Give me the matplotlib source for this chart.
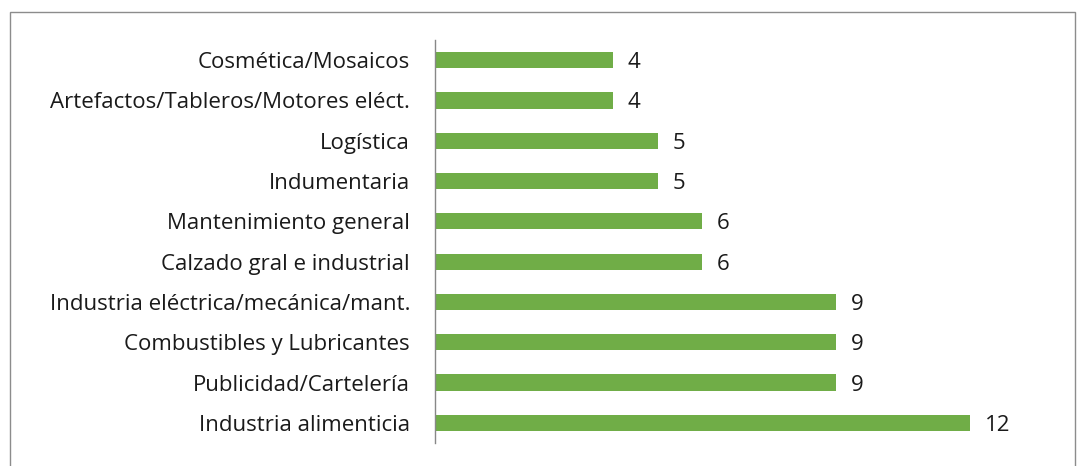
import matplotlib
matplotlib.use('Agg')
import matplotlib.pyplot as plt
from matplotlib.patches import Rectangle

categories = [
    'Industria alimenticia',
    'Publicidad/Cartelería',
    'Combustibles y Lubricantes',
    'Industria eléctrica/mecánica/mant.',
    'Calzado gral e industrial',
    'Mantenimiento general',
    'Indumentaria',
    'Logística',
    'Artefactos/Tableros/Motores eléct.',
    'Cosmética/Mosaicos',
]
values = [12, 9, 9, 9, 6, 6, 5, 5, 4, 4]

plt.rcParams['font.family'] = ['Open Sans', 'DejaVu Sans']

fig = plt.figure(figsize=(10.77, 4.66), dpi=100)
ax = fig.add_axes([435 / 1077, 1 - 443 / 466, (1059 - 435) / 1077, (443 - 40) / 466])

y = range(len(categories))
ax.barh(y, values, height=0.4, color='#70AD47')
for yi, v in zip(y, values):
    ax.text(v + 0.33, yi, str(v), va='center_baseline', ha='left', fontsize=16, color='#1a1a1a')

ax.set_xlim(0, 14)
ax.set_ylim(-0.5, len(categories) - 0.5)
ax.set_yticks(list(y))
ax.set_yticklabels(categories, fontsize=16, color='#1a1a1a', va='center_baseline')
ax.tick_params(axis='y', length=0, pad=18)
ax.set_xticks([])
for s in ['top', 'right', 'bottom']:
    ax.spines[s].set_visible(False)
ax.spines['left'].set_color('#888888')
ax.spines['left'].set_linewidth(1)

# chart-area border
fig.patches.append(Rectangle((9.5 / 1077, -0.05), 1065 / 1077, 1.05 - 11.5 / 466,
                             transform=fig.transFigure, fill=False,
                             edgecolor='#8c8c8c', linewidth=1))

fig.savefig('out.png', dpi=100)
